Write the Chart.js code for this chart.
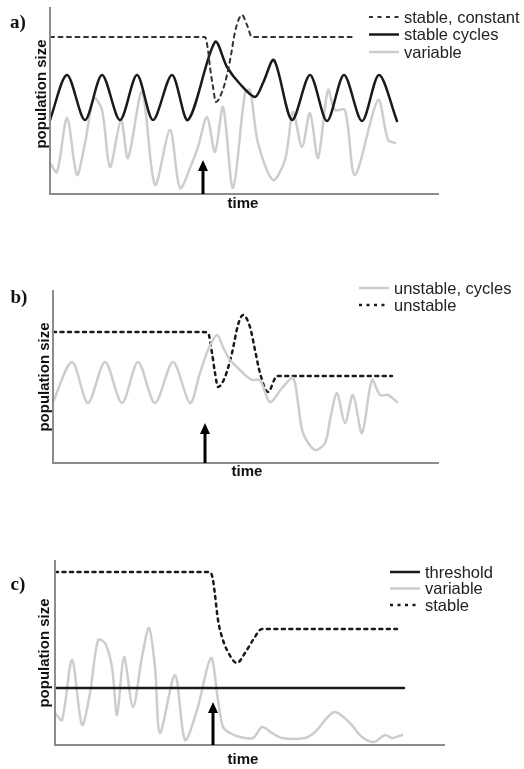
<!DOCTYPE html>
<html>
<head>
<meta charset="utf-8">
<script src="https://cdn.jsdelivr.net/npm/chart.js@4"></script>
<style>
  body { margin: 0; background: #fff; }
  canvas { position: absolute; left: 0; }
</style>
</head>
<body>
<canvas id="panelA" width="524" height="256" style="top:0px"></canvas>
<canvas id="panelB" width="524" height="256" style="top:256px"></canvas>
<canvas id="panelC" width="524" height="257" style="top:512px"></canvas>
<script>
// [time, population size] pairs (arbitrary units)

// a)
const aStableConstant = [[0,157],[155,157],[158,144],[160,127],[163,107],[166,92],[172,102],[177,119],[181,139],[185,162],[192,179],[197,169],[202,157],[305,157]];
const aStableCycles = [[0,74],[17,119],[35,74],[52,119],[70,74],[87,119],[103,74],[122,119],[138,74],[165,152],[177,127],[190,110],[205,97],[213,111],[224,134],[242,74],[260,119],[277,73],[294,119],[312,73],[329,119],[347,73]];
const aVariable = [[0,31],[7,22],[17,76],[27,19],[35,51],[44,96],[52,84],[60,27],[71,74],[78,36],[92,102],[105,9],[120,64],[130,6],[142,31],[148,47],[157,77],[165,42],[173,87],[183,6],[195,101],[200,104],[208,51],[223,14],[235,34],[243,82],[252,47],[260,81],[268,36],[278,104],[285,84],[295,84],[305,19],[328,94],[338,54],[345,51]];

// b)
const bUnstableCycles = [[0,61],[19,101],[35,60],[52,101],[69,60],[85,101],[102,60],[120,101],[137,60],[147,90],[155,113],[164,128],[170,116],[177,103],[185,95],[192,88],[199,83],[207,83],[217,61],[229,75],[240,85],[245,60],[250,30],[262,13],[272,20],[277,43],[284,70],[292,40],[300,68],[309,30],[319,83],[327,68],[335,68],[344,61]];
const bUnstable = [[0,131],[149,131],[155,130],[159,110],[162,90],[165,76],[172,86],[179,110],[185,138],[190,148],[197,136],[202,113],[207,90],[215,71],[224,87],[230,87],[339,87]];

// c)
const cThreshold = [[0,57],[349,57]];
const cVariable = [[0,32],[7,25],[17,85],[27,20],[35,52],[43,105],[50,102],[57,78],[62,30],[69,88],[78,38],[87,88],[94,117],[100,78],[105,12],[120,70],[130,5],[142,35],[156,87],[163,45],[168,18],[175,12],[185,8],[198,7],[207,18],[217,12],[227,7],[250,7],[260,13],[279,33],[294,23],[307,8],[319,3],[330,10],[337,7],[347,10]];
const cStable = [[0,173],[155,173],[158,165],[160,150],[163,125],[167,108],[172,95],[182,82],[190,92],[198,105],[207,116],[215,116],[342,116]];

// perturbation arrows: [time, tip height]
const aArrow = [153, 34];
const bArrow = [152, 40];
const cArrow = [158, 43];

const GREY = '#cdcdcd', BLACK = '#1a1a1a', DASH = '#333';

const pts = arr => arr.map(([x, y]) => ({ x, y }));

// axes, arrow, titles and legend drawn by hand
const decor = {
  id: 'decor',
  afterDatasetsDraw(chart, args, o) {
    const { ctx, chartArea: a, scales: { x, y } } = chart;
    ctx.save();
    ctx.strokeStyle = '#8c8c8c';
    ctx.lineWidth = 2;
    ctx.beginPath();
    ctx.moveTo(a.left, a.top);
    ctx.lineTo(a.left, a.bottom);
    ctx.lineTo(a.right, a.bottom);
    ctx.stroke();

    // arrow
    const ax = x.getPixelForValue(o.arrow[0]);
    const tip = y.getPixelForValue(o.arrow[1]);
    const base = y.getPixelForValue(0);
    ctx.strokeStyle = '#000';
    ctx.lineWidth = 3;
    ctx.beginPath();
    ctx.moveTo(ax, base);
    ctx.lineTo(ax, tip + 8);
    ctx.stroke();
    ctx.fillStyle = '#000';
    ctx.beginPath();
    ctx.moveTo(ax, tip);
    ctx.lineTo(ax - 5, tip + 11);
    ctx.lineTo(ax + 5, tip + 11);
    ctx.closePath();
    ctx.fill();

    // panel letter and axis titles
    ctx.fillStyle = '#111';
    ctx.textAlign = 'center';
    ctx.textBaseline = 'middle';
    ctx.font = 'bold 19px "Liberation Serif"';
    ctx.fillText(o.letter, o.letterPos[0], o.letterPos[1]);
    ctx.font = 'bold 15px "Liberation Sans"';
    ctx.fillText('time', o.timePos[0], o.timePos[1]);
    ctx.save();
    ctx.translate(o.popPos[0], o.popPos[1]);
    ctx.rotate(-Math.PI / 2);
    ctx.fillText('population size', 0, 0);
    ctx.restore();

    // legend
    ctx.textAlign = 'left';
    ctx.font = '16.5px "Liberation Sans"';
    chart.data.datasets.forEach((ds, i) => {
      const ly = o.legend.y + i * o.legend.gap;
      ctx.strokeStyle = ds.borderColor;
      ctx.lineWidth = ds.borderWidth;
      ctx.setLineDash(ds.borderDash || []);
      ctx.beginPath();
      ctx.moveTo(o.legend.x, ly);
      ctx.lineTo(o.legend.x + 30, ly);
      ctx.stroke();
      ctx.setLineDash([]);
      ctx.fillStyle = '#222';
      ctx.fillText(ds.label, o.legend.x + 35, ly + 1);
    });
    ctx.restore();
  }
};

function panel(id, datasets, area, deco) {
  const cv = document.getElementById(id);
  return new Chart(cv, {
    type: 'line',
    data: { datasets },
    options: {
      responsive: false,
      animation: false,
      layout: { padding: area.pad },
      elements: { point: { radius: 0 }, line: { tension: 0.3, borderCapStyle: 'round', borderJoinStyle: 'round' } },
      scales: {
        x: { type: 'linear', display: false, min: 0, max: area.w },
        y: { type: 'linear', display: false, min: 0, max: area.h }
      },
      plugins: { legend: { display: false }, tooltip: { enabled: false }, decor: deco }
    },
    plugins: [decor]
  });
}

// flat-then-dip lines use monotone so the plateaus stay level
panel('panelA', [
  { label: 'stable, constant', data: pts(aStableConstant), borderColor: DASH, borderWidth: 2, borderDash: [4, 4.5], cubicInterpolationMode: 'monotone', clip: false },
  { label: 'stable cycles', data: pts(aStableCycles), borderColor: BLACK, borderWidth: 2.5, clip: false },
  { label: 'variable', data: pts(aVariable), borderColor: GREY, borderWidth: 2.5, clip: false }
], { pad: { left: 50, top: 7, right: 85, bottom: 62 }, w: 389, h: 187 }, {
  letter: 'a)', letterPos: [18, 23], timePos: [243, 204], popPos: [42, 94],
  arrow: aArrow, legend: { x: 369, y: 17, gap: 17.5 }
});

panel('panelB', [
  { label: 'unstable, cycles', data: pts(bUnstableCycles), borderColor: GREY, borderWidth: 2.5, clip: false },
  { label: 'unstable', data: pts(bUnstable), borderColor: BLACK, borderWidth: 2.5, borderDash: [3, 4.5], cubicInterpolationMode: 'monotone', clip: false }
], { pad: { left: 53, top: 34, right: 85, bottom: 49 }, w: 386, h: 173 }, {
  letter: 'b)', letterPos: [19, 42], timePos: [247, 216], popPos: [45, 121],
  arrow: bArrow, legend: { x: 359, y: 32, gap: 17 }
});

panel('panelC', [
  { label: 'threshold', data: pts(cThreshold), borderColor: BLACK, borderWidth: 2.5, clip: false },
  { label: 'variable', data: pts(cVariable), borderColor: GREY, borderWidth: 2.5, clip: false },
  { label: 'stable', data: pts(cStable), borderColor: BLACK, borderWidth: 2.5, borderDash: [3, 4.5], cubicInterpolationMode: 'monotone', clip: false }
], { pad: { left: 55, top: 48, right: 79, bottom: 24 }, w: 390, h: 185 }, {
  letter: 'c)', letterPos: [18, 73], timePos: [243, 248], popPos: [45, 141],
  arrow: cArrow, legend: { x: 390, y: 60, gap: 16.5 }
});
</script>
</body>
</html>
